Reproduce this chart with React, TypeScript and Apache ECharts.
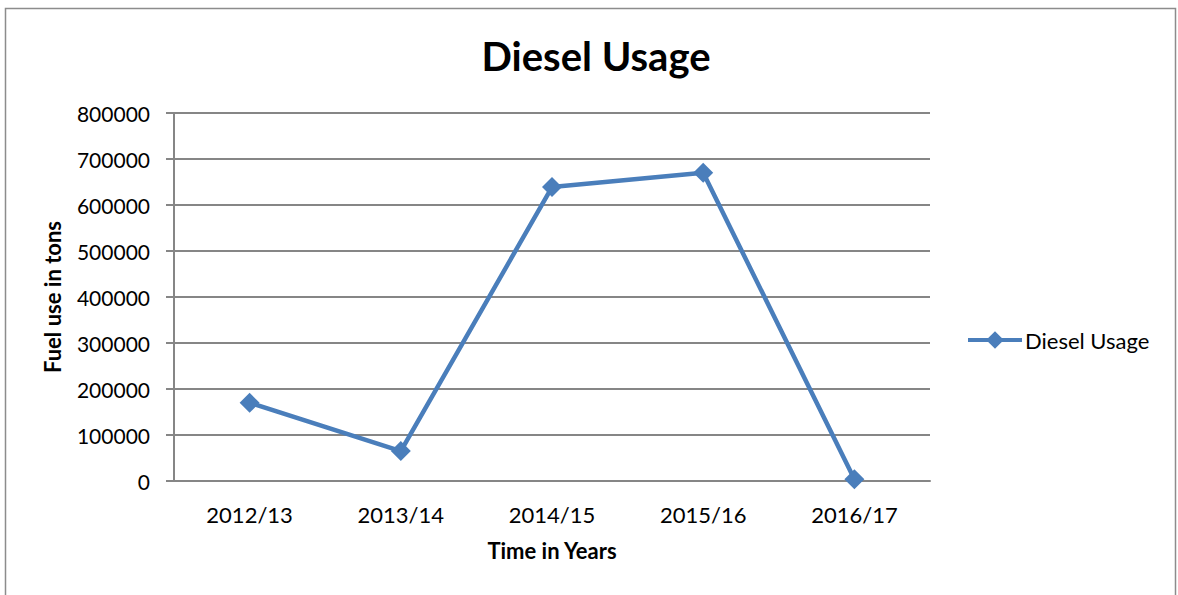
import React, { useEffect, useRef } from "react";
import * as echarts from "echarts";

const categories = ["2012/13", "2013/14", "2014/15", "2015/16", "2016/17"];
const dieselUsage = [170000, 65000, 639000, 670000, 4000];
const seriesName = "Diesel Usage";
const titleText = "Diesel Usage";
const yAxisName = "Fuel use in tons";
const xAxisName = "Time in Years";

const FONT = "Lato, 'Liberation Sans', sans-serif";

export default function App() {
  const ref = useRef<HTMLDivElement>(null);
  useEffect(() => {
    document.body.style.margin = "0";
    const chart = echarts.init(ref.current!, null, { renderer: "svg" });
    chart.setOption({
      animation: false,
      backgroundColor: "#ffffff",
      textStyle: { fontFamily: FONT },
      title: {
        text: titleText,
        left: 591,
        top: 31,
        textAlign: "center",
        textStyle: { fontFamily: FONT, fontSize: 40, fontWeight: "bold", color: "#000" },
      },
      graphic: [
        {
          type: "rect",
          shape: { x: 5.5, y: 8.5, width: 1170, height: 620 },
          style: { fill: "none", stroke: "#8c8c8c", lineWidth: 1.5 },
          silent: true,
        },
        {
          type: "text",
          x: 52,
          y: 297,
          rotation: Math.PI / 2,
          style: {
            text: yAxisName,
            fontFamily: FONT,
            fontSize: 22,
            fontWeight: "bold",
            fill: "#000",
            align: "center",
            verticalAlign: "middle",
          },
        },
      ],
      legend: {
        left: 961,
        top: 324,
        itemWidth: 54,
        itemHeight: 22,
        itemGap: 4,
        lineStyle: { width: 4 },
        textStyle: { fontFamily: FONT, fontSize: 22, color: "#000", padding: [0, 0, 0, -2] },
        data: [seriesName],
      },
      grid: { left: 174, right: 248, top: 113, bottom: 114 },
      xAxis: {
        type: "category",
        data: categories,
        boundaryGap: true,
        name: xAxisName,
        nameLocation: "middle",
        nameGap: 58,
        nameTextStyle: { fontFamily: FONT, fontSize: 22, fontWeight: "bold", color: "#000" },
        axisLine: { lineStyle: { color: "#868686", width: 2 } },
        axisTick: { show: false },
        axisLabel: { fontFamily: FONT, fontSize: 22, color: "#000", margin: 22 },
      },
      yAxis: {
        type: "value",
        min: 0,
        max: 800000,
        interval: 100000,
        axisLine: { show: true, lineStyle: { color: "#868686", width: 2 } },
        axisTick: { show: true, length: 8, lineStyle: { color: "#868686", width: 2 } },
        axisLabel: {
          fontFamily: FONT,
          fontSize: 21,
          color: "#000",
          margin: 24,
          formatter: (v: number) => String(v),
        },
        splitLine: { lineStyle: { color: "#868686", width: 2 } },
      },
      series: [
        {
          name: seriesName,
          type: "line",
          data: dieselUsage,
          symbol: "diamond",
          symbolSize: 20,
          lineStyle: { color: "#4a7ebb", width: 4.5 },
          itemStyle: { color: "#4a7ebb" },
        },
      ],
    });
    return () => chart.dispose();
  }, []);
  return <div ref={ref} style={{ width: 1178, height: 595 }} />;
}
